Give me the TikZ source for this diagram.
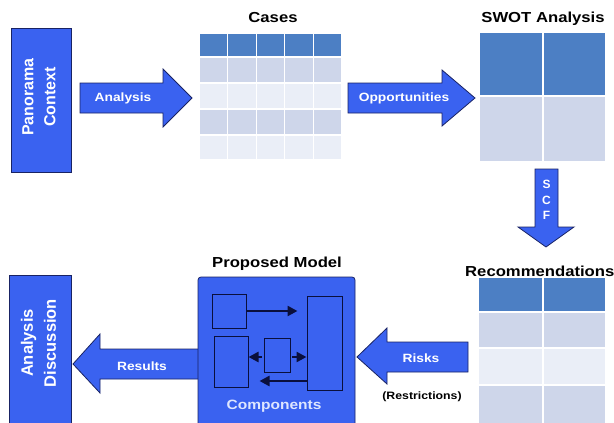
\documentclass[tikz,border=0pt]{standalone}
\usepackage{fontspec}
\setmainfont{Liberation Sans}
\newfontfamily\widefont[FakeStretch=1.15]{Liberation Sans}
\usetikzlibrary{arrows.meta,calc}
\definecolor{blk}{RGB}{58,98,240}
\definecolor{navy}{RGB}{25,35,100}
\definecolor{dark}{RGB}{10,15,60}
\definecolor{hdr}{RGB}{76,127,196}
\definecolor{bandA}{RGB}{206,214,234}
\definecolor{bandB}{RGB}{234,238,247}
\definecolor{comptext}{RGB}{222,230,255}
\begin{document}
\begin{tikzpicture}[x=1pt,y=-1pt,
  blockshape/.style={fill=blk, draw=navy, line width=0.8pt},
  boxnode/.style={fill=blk, draw=navy, line width=0.8pt, inner sep=0pt},
  lbl/.style={text=white, font=\widefont\bfseries\fontsize{12}{14}\selectfont, inner sep=0pt},
  ttl/.style={font=\widefont\bfseries\fontsize{14.5}{16}\selectfont, inner sep=0pt},
  vlbl/.style={text=white, font=\bfseries\fontsize{16}{22}\selectfont, rotate=90, align=center, inner sep=0pt},
  cell/.style={draw=white, line width=1.3pt},
  innerbox/.style={draw=dark, line width=1pt, inner sep=0pt},
  minarrow/.style={-{Triangle[length=10pt,width=10pt]}, line width=2.4pt, draw=dark},
  area/.style={inner sep=0pt, draw=none}]
\useasboundingbox (0,0) rectangle (614,423);

% ---------- Panorama Context ----------
\node[boxnode, rotate=90, minimum width=144pt, minimum height=60pt] (panorama) at (41,100) {};
\node[vlbl] (panoramatext) at (39,97) {Panorama\\Context};

% ---------- Analysis arrow ----------
\draw[blockshape] (80,83) -- (163,83) -- (163,69) -- (192,98) -- (163,127) -- (163,113) -- (80,113) -- cycle;
\node[lbl] (analysislbl) at (123,98) {Analysis};

% ---------- Cases table ----------
\foreach \ya/\yb/\c in {33/57/hdr, 57/83/bandA, 83/109/bandB, 109/135/bandA, 135/160/bandB}
  \foreach \i in {0,...,4}
    \filldraw[cell, fill=\c] ({199+\i*28.6},\ya) rectangle ({199+(\i+1)*28.6},\yb);
\node[area, minimum width=143pt, minimum height=127pt] (cases) at (270.5,96.5) {};
\node[ttl] (casestitle) at (273,18) {Cases};

% ---------- Opportunities arrow ----------
\draw[blockshape] (348,83) -- (442,83) -- (442,70) -- (475,98) -- (442,126) -- (442,113) -- (348,113) -- cycle;
\node[lbl] (opplbl) at (404,98) {Opportunities};

% ---------- SWOT table ----------
\foreach \ya/\yb/\c in {32/96/hdr, 96/162/bandA}
  \foreach \xa/\xb in {479/543, 543/606}
    \filldraw[cell, fill=\c] (\xa,\ya) rectangle (\xb,\yb);
\node[area, minimum width=127pt, minimum height=130pt] (swot) at (542.5,97) {};
\node[ttl] (swottitle) at (543,19) {SWOT Analysis};

% ---------- SCF arrow ----------
\draw[blockshape] (535,169) -- (558,169) -- (558,227) -- (574,227) -- (546,247) -- (518,227) -- (535,227) -- cycle;
\node[lbl, align=center, font=\bfseries\fontsize{12}{15.5}\selectfont] (scflbl) at (546.5,200) {S\\C\\F};

% ---------- Recommendations table ----------
\foreach \ya/\yb/\c in {277/312/hdr, 312/348/bandA, 348/385/bandB, 385/430/bandA}
  \foreach \xa/\xb in {478/543, 543/606}
    \filldraw[cell, fill=\c] (\xa,\ya) rectangle (\xb,\yb);
\node[area, minimum width=128pt, minimum height=153pt] (recom) at (542,353.5) {};
\node[ttl, anchor=west] (recomtitle) at (465,271) {Recommendations};

% ---------- Risks arrow ----------
\draw[blockshape] (468,342) -- (387,342) -- (387,328) -- (357,357) -- (387,384) -- (387,372) -- (468,372) -- cycle;
\node[lbl] (riskslbl) at (421,358) {Risks};
\node[inner sep=0pt, font=\widefont\bfseries\fontsize{10.7}{12}\selectfont] (restr) at (422,397) {(Restrictions)};

% ---------- Results arrow ----------
\draw[blockshape] (200,349) -- (100,349) -- (100,334) -- (73,364) -- (100,393) -- (100,379) -- (200,379) -- cycle;
\node[lbl] (resultslbl) at (142,366) {Results};

% ---------- Proposed Model ----------
\node[boxnode, rounded corners=3pt, minimum width=157pt, minimum height=153pt] (model) at (276.5,353.5) {};
\node[ttl] (modeltitle) at (277,264) {Proposed Model};
\node[innerbox, minimum width=34pt, minimum height=34pt] (b1) at (229,311) {};
\node[innerbox, minimum width=35pt, minimum height=94pt] (tall) at (324.5,343) {};
\node[innerbox, minimum width=34pt, minimum height=51pt] (ll) at (231,361.5) {};
\node[innerbox, minimum width=26pt, minimum height=34pt] (mid) at (277,355) {};
\coordinate (midL) at (262,357);
\coordinate (midR) at (292,357);
\coordinate (bottomstart) at (307,381);
\draw[minarrow, shorten >=9pt] (b1.east) -- (b1.east -| tall.west);
\draw[minarrow] (midL) -- (midL -| ll.east);
\draw[minarrow] (midR) -- (midR -| tall.west);
\draw[minarrow, shorten >=11pt] (bottomstart) -- (bottomstart -| ll.east);
\node[inner sep=0pt, text=comptext, font=\widefont\bfseries\fontsize{13.5}{15}\selectfont] (comp) at (274,406) {Components};

% ---------- Analysis Discussion ----------
\node[boxnode, rotate=90, minimum width=160pt, minimum height=62pt] (discussion) at (40,355) {};
\node[vlbl, font=\bfseries\fontsize{16.5}{23}\selectfont] (discussiontext) at (38.5,343) {Analysis\\Discussion};
\end{tikzpicture}
\end{document}
